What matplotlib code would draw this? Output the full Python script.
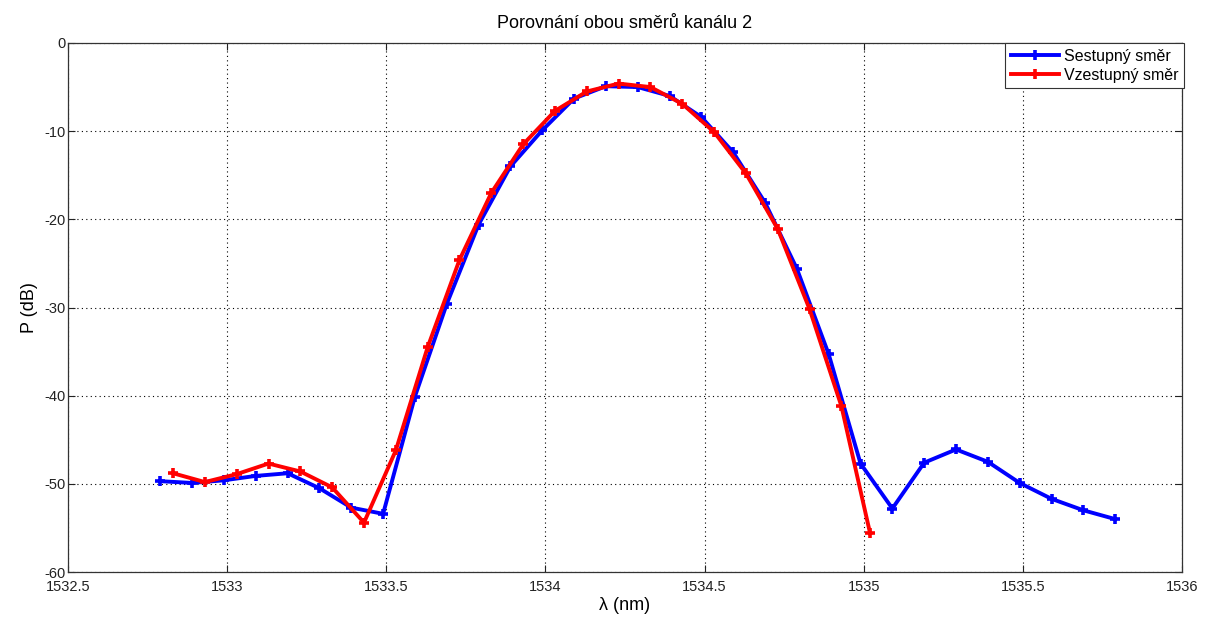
import matplotlib
matplotlib.use("Agg")
import matplotlib.pyplot as plt

plt.rcParams['font.family'] = ['Liberation Sans', 'DejaVu Sans']
plt.rcParams['axes.unicode_minus'] = False

title = "Porovnání obou směrů kanálu 2"
xlabel = "λ (nm)"
ylabel = "P (dB)"
label_down = "Sestupný směr"
label_up = "Vzestupný směr"

x_down = [1532.79, 1532.89, 1532.99, 1533.09, 1533.19, 1533.29, 1533.39, 1533.49,
          1533.59, 1533.69, 1533.79, 1533.89, 1533.99, 1534.09, 1534.19, 1534.29,
          1534.39, 1534.49, 1534.59, 1534.69, 1534.79, 1534.89, 1534.99, 1535.09,
          1535.19, 1535.29, 1535.39, 1535.49, 1535.59, 1535.69, 1535.79]
y_down = [-49.7, -49.9, -49.6, -49.1, -48.8, -50.5, -52.7, -53.4,
          -40.1, -29.6, -20.6, -14.0, -9.9, -6.3, -4.9, -5.0,
          -6.0, -8.4, -12.4, -18.1, -25.6, -35.3, -47.7, -52.8,
          -47.6, -46.1, -47.5, -49.9, -51.7, -53.0, -54.0]

x_up = [1532.83, 1532.93, 1533.03, 1533.13, 1533.23, 1533.33, 1533.43, 1533.53,
        1533.63, 1533.73, 1533.83, 1533.93, 1534.03, 1534.13, 1534.23, 1534.33,
        1534.43, 1534.53, 1534.63, 1534.73, 1534.83, 1534.93, 1535.02]
y_up = [-48.8, -49.8, -48.9, -47.7, -48.6, -50.4, -54.4, -46.2,
        -34.5, -24.6, -17.0, -11.5, -7.7, -5.5, -4.6, -5.0,
        -6.9, -10.1, -14.8, -21.1, -30.2, -41.2, -55.6]

xticks = [1532.5, 1533, 1533.5, 1534, 1534.5, 1535, 1535.5, 1536]
xticklabels = ["1532.5", "1533", "1533.5", "1534", "1534.5", "1535", "1535.5", "1536"]
yticks = [-60, -50, -40, -30, -20, -10, 0]

fig = plt.figure(figsize=(12.16, 6.2), dpi=100)
ax = fig.add_axes([68/1216, 1-572/620, (1182-68)/1216, (572-43)/620])

ax.plot(x_down, y_down, color='#0000ff', lw=2.8, marker='+', ms=6.5, mew=2.6,
        label=label_down, zorder=3)
ax.plot(x_up, y_up, color='#ff0000', lw=2.8, marker='+', ms=6.5, mew=2.6,
        label=label_up, zorder=4)

ax.set_xlim(1532.5, 1536)
ax.set_ylim(-60, 0)
ax.set_xticks(xticks)
ax.set_xticklabels(xticklabels)
ax.set_yticks(yticks)
ax.grid(True, color='black', linestyle=(0, (1, 3)), linewidth=0.8)
ax.tick_params(direction='in', top=True, right=True, length=5, width=0.8,
               labelsize=10.5, colors='#222222', pad=2)
ax.tick_params(axis='x', pad=6)
for s in ax.spines.values():
    s.set_color('#333333')
    s.set_linewidth(0.9)

ax.set_title(title, fontsize=13, pad=11)
ax.set_xlabel(xlabel, fontsize=13, labelpad=2)
ax.set_ylabel(ylabel, fontsize=13, labelpad=4)

leg = ax.legend(loc='upper right', fontsize=11.5, fancybox=False, framealpha=1,
                edgecolor='#333333', borderaxespad=0.0, handlelength=3.0,
                borderpad=0.35, labelspacing=0.25, handletextpad=0.3,
                bbox_to_anchor=(1.0015, 1.0))
leg.get_frame().set_linewidth(0.8)

fig.savefig("out.png", dpi=100)
